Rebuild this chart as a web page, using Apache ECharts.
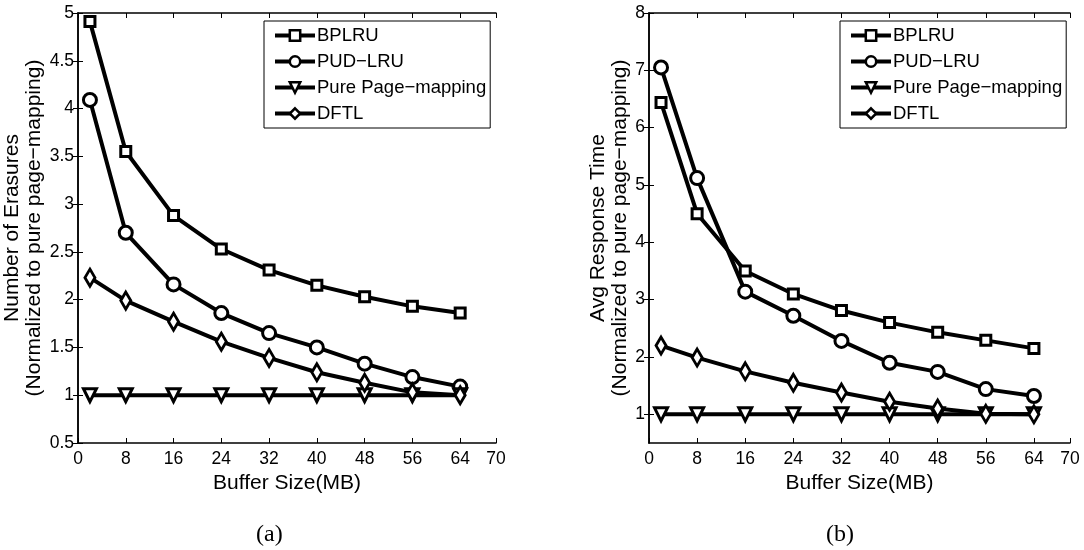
<!DOCTYPE html>
<html>
<head>
<meta charset="utf-8">
<script src="https://cdn.jsdelivr.net/npm/echarts@6/dist/echarts.min.js"></script>
<style>html,body{margin:0;padding:0;background:#fff}#c{width:1084px;height:550px}</style>
</head>
<body>
<div id="c"></div>
<script>
const bufferSizes = [2, 8, 16, 24, 32, 40, 48, 56, 64];
const seriesNames = ['BPLRU', 'PUD\u2212LRU', 'Pure Page\u2212mapping', 'DFTL'];

// (a) Number of erasures, normalized
const erasBPLRU = [4.91, 3.55, 2.88, 2.53, 2.31, 2.15, 2.03, 1.93, 1.86];
const erasPUD   = [4.09, 2.70, 2.16, 1.86, 1.65, 1.50, 1.33, 1.19, 1.09];
const erasPure  = [1, 1, 1, 1, 1, 1, 1, 1, 1];
const erasDFTL  = [2.23, 1.99, 1.77, 1.56, 1.39, 1.24, 1.13, 1.03, 1.00];

// (b) Avg response time, normalized
const respBPLRU = [6.44, 4.50, 3.50, 3.10, 2.81, 2.60, 2.43, 2.29, 2.15];
const respPUD   = [7.05, 5.12, 3.14, 2.72, 2.28, 1.90, 1.74, 1.44, 1.32];
const respPure  = [1, 1, 1, 1, 1, 1, 1, 1, 1];
const respDFTL  = [2.20, 1.99, 1.75, 1.55, 1.38, 1.22, 1.10, 1.01, 1.00];

const yTicksB = [1, 2, 3, 4, 5, 6, 7, 8];

const xName = 'Buffer Size(MB)';
const yNameA = 'Number of Erasures\n(Normalized to pure page\u2212mapping)';
const yNameB = 'Avg Response Time\n(Normalized to pure page\u2212mapping)';

const FONT = 'Liberation Sans';
const markers = [
  {symbol: 'rect', size: 10, rotate: 0},
  {symbol: 'circle', size: 13, rotate: 0},
  {symbol: 'triangle', size: 13, rotate: 180},
  {symbol: 'diamond', size: [10, 17], rotate: 0}
];

function mkSeries(name, vals, idx, m) {
  return {
    type: 'line', name: name,
    xAxisIndex: idx, yAxisIndex: idx,
    data: bufferSizes.map((x, i) => [x, vals[i]]),
    symbol: m.symbol, symbolSize: m.size, symbolRotate: m.rotate,
    showAllSymbol: true,
    lineStyle: {color: '#000', width: 4},
    itemStyle: {color: '#fff', borderColor: '#000', borderWidth: 3},
    emphasis: {disabled: true},
    animation: false
  };
}

const axisLineStyle = {lineStyle: {color: '#000', width: 1.5}};
const tickStyle = {inside: true, length: 5, lineStyle: {color: '#000', width: 1}};
const labelStyle = {color: '#000', fontFamily: FONT, fontSize: 17.5};

function xAxes(grid) {
  return [
    {type: 'value', gridIndex: grid, position: 'bottom', min: 0, max: 70, interval: 8,
     axisLine: axisLineStyle, axisTick: tickStyle, splitLine: {show: false},
     axisLabel: Object.assign({margin: 7, showMaxLabel: true}, labelStyle),
     name: xName, nameLocation: 'middle', nameGap: 27,
     nameTextStyle: {color: '#000', fontFamily: FONT, fontSize: 21}},
    {type: 'value', gridIndex: grid, position: 'top', min: 0, max: 70, interval: 8,
     axisLine: axisLineStyle, axisTick: tickStyle, splitLine: {show: false},
     axisLabel: {show: false}}
  ];
}

function mkLegend(left) {
  return {orient: 'vertical', left: left, top: 21, data: seriesNames,
    itemWidth: 40, itemHeight: 13, itemGap: 7, padding: [5, 4, 5, 9],
    borderColor: '#000', borderWidth: 1, backgroundColor: '#fff',
    selectedMode: false,
    lineStyle: {width: 4, color: '#000'},
    itemStyle: {borderWidth: 2.5, borderColor: '#000', color: '#fff'},
    textStyle: {color: '#000', fontFamily: FONT, fontSize: 18.5, padding: [0, 0, 0, -3]}};
}

const option = {
  backgroundColor: '#fff',
  animation: false,
  title: [
    {text: '(a)', left: 251, top: 518, textStyle: {fontFamily: 'Liberation Serif', fontSize: 24, fontWeight: 'normal', color: '#000'}},
    {text: '(b)', left: 821, top: 518, textStyle: {fontFamily: 'Liberation Serif', fontSize: 24, fontWeight: 'normal', color: '#000'}}
  ],
  grid: [
    {left: 78, top: 13, width: 418, height: 430},
    {left: 649, top: 13, width: 421, height: 430}
  ],
  xAxis: [].concat(xAxes(0), xAxes(1)),
  yAxis: [
    {type: 'value', gridIndex: 0, position: 'left', min: 0.5, max: 5, interval: 0.5,
     axisLine: axisLineStyle, axisTick: tickStyle, splitLine: {show: false},
     axisLabel: Object.assign({margin: 4}, labelStyle),
     name: yNameA, nameLocation: 'middle', nameGap: 33, nameRotate: 90,
     nameTextStyle: {color: '#000', fontFamily: FONT, fontSize: 21, lineHeight: 22}},
    {type: 'value', gridIndex: 0, position: 'right', min: 0.5, max: 5, interval: 0.5,
     axisLine: axisLineStyle, axisTick: tickStyle, splitLine: {show: false},
     axisLabel: {show: false}},
    {type: 'value', gridIndex: 1, position: 'left', min: 0.5, max: 8,
     axisLine: axisLineStyle,
     axisTick: Object.assign({customValues: yTicksB}, tickStyle),
     splitLine: {show: false},
     axisLabel: Object.assign({margin: 4, customValues: yTicksB}, labelStyle),
     name: yNameB, nameLocation: 'middle', nameGap: 16, nameRotate: 90,
     nameTextStyle: {color: '#000', fontFamily: FONT, fontSize: 21, lineHeight: 22}},
    {type: 'value', gridIndex: 1, position: 'right', min: 0.5, max: 8,
     axisLine: axisLineStyle,
     axisTick: Object.assign({customValues: yTicksB}, tickStyle),
     splitLine: {show: false},
     axisLabel: {show: false}}
  ],
  legend: [mkLegend(264), mkLegend(840)],
  series: [
    mkSeries(seriesNames[0], erasBPLRU, 0, markers[0]),
    mkSeries(seriesNames[1], erasPUD, 0, markers[1]),
    mkSeries(seriesNames[2], erasPure, 0, markers[2]),
    mkSeries(seriesNames[3], erasDFTL, 0, markers[3]),
    mkSeries(seriesNames[0], respBPLRU, 2, markers[0]),
    mkSeries(seriesNames[1], respPUD, 2, markers[1]),
    mkSeries(seriesNames[2], respPure, 2, markers[2]),
    mkSeries(seriesNames[3], respDFTL, 2, markers[3])
  ]
};

const chart = echarts.init(document.getElementById('c'), null, {renderer: 'canvas'});
chart.setOption(option);
</script>
</body>
</html>
